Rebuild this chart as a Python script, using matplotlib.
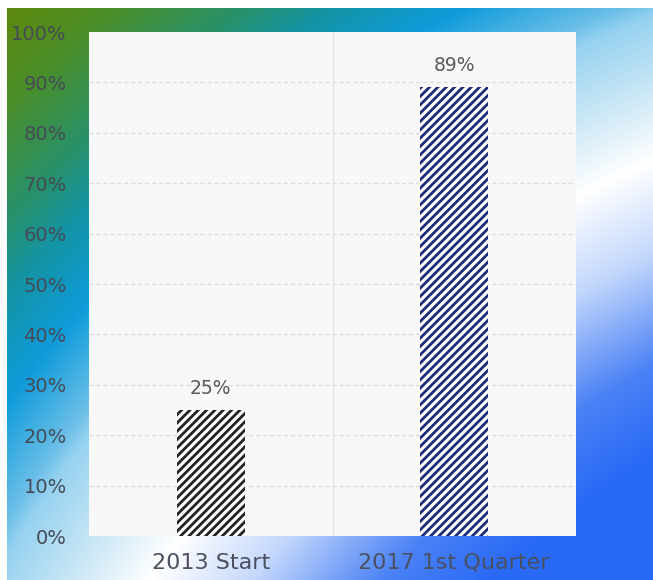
import numpy as np
import matplotlib
matplotlib.use("Agg")
from matplotlib import pyplot as plt

# data
categories = ["2013 Start", "2017 1st Quarter"]
values = [25, 89]
value_labels = ["25%", "89%"]
hatch_colors = ["#222222", "#1c2a7a"]
yticks = list(range(0, 101, 10))

plt.rcParams["hatch.linewidth"] = 2.0

W, H, DPI = 653, 580, 100
fig = plt.figure(figsize=(W / DPI, H / DPI), dpi=DPI)
fig.patch.set_facecolor("white")

# radial gradient background, centred off-canvas at the bottom right
# (distance in px -> rgb)
dist = [850, 930, 1030, 1116, 1180, 1250, 1270, 1335, 1400, 1450, 1530, 1620]
rgb = np.array([
    (40, 105, 245), (75, 130, 245), (195, 215, 252), (255, 255, 255),
    (205, 232, 246), (150, 210, 240), (105, 190, 232), (15, 155, 218),
    (20, 148, 165), (40, 145, 105), (75, 142, 40), (100, 135, 5),
]) / 255
x0, y0 = 7, 8
xx, yy = np.meshgrid(np.arange(x0, W), np.arange(y0, H))
d = np.hypot(xx - 1085, yy - 1189)
img = np.dstack([np.interp(d, dist, rgb[:, k]) for k in range(3)])
bg = fig.add_axes([x0 / W, 0, (W - x0) / W, (H - y0) / H])
bg.imshow(img, aspect="auto", interpolation="bilinear")
bg.axis("off")

# main plot
ax = fig.add_axes([89 / W, (H - 536) / H, (576 - 89) / W, (536 - 32) / H])
ax.set_facecolor("#f8f8f8")
x = np.arange(len(categories))
for i in range(len(categories)):
    ax.bar(x[i], values[i], width=0.28, facecolor="white",
           edgecolor=hatch_colors[i], linewidth=0, hatch="////", zorder=3)
    ax.annotate(value_labels[i], (x[i], values[i]), xytext=(0, 9),
                textcoords="offset points", ha="center", va="bottom",
                fontsize=13.5, color="#5a5a5a", zorder=4)

ax.set_xlim(-0.5, 1.5)
ax.set_ylim(0, 100)
ax.set_yticks(yticks)
ax.set_yticklabels([f"{v}%" for v in yticks], fontsize=14, color="#454a55")
ax.set_xticks(x)
ax.set_xticklabels(categories, fontsize=16, color="#4a5060")
ax.tick_params(axis="y", length=0, pad=16)
ax.tick_params(axis="x", length=0, pad=12)
for s in ax.spines.values():
    s.set_visible(False)

for v in yticks[1:-1]:
    ax.axhline(v, color="#dedede", linewidth=1, linestyle=(0, (3, 2)), zorder=1)
ax.axvline(0.5, color="#e4e4e4", linewidth=1, zorder=1)

fig.savefig("out.png", dpi=DPI)
